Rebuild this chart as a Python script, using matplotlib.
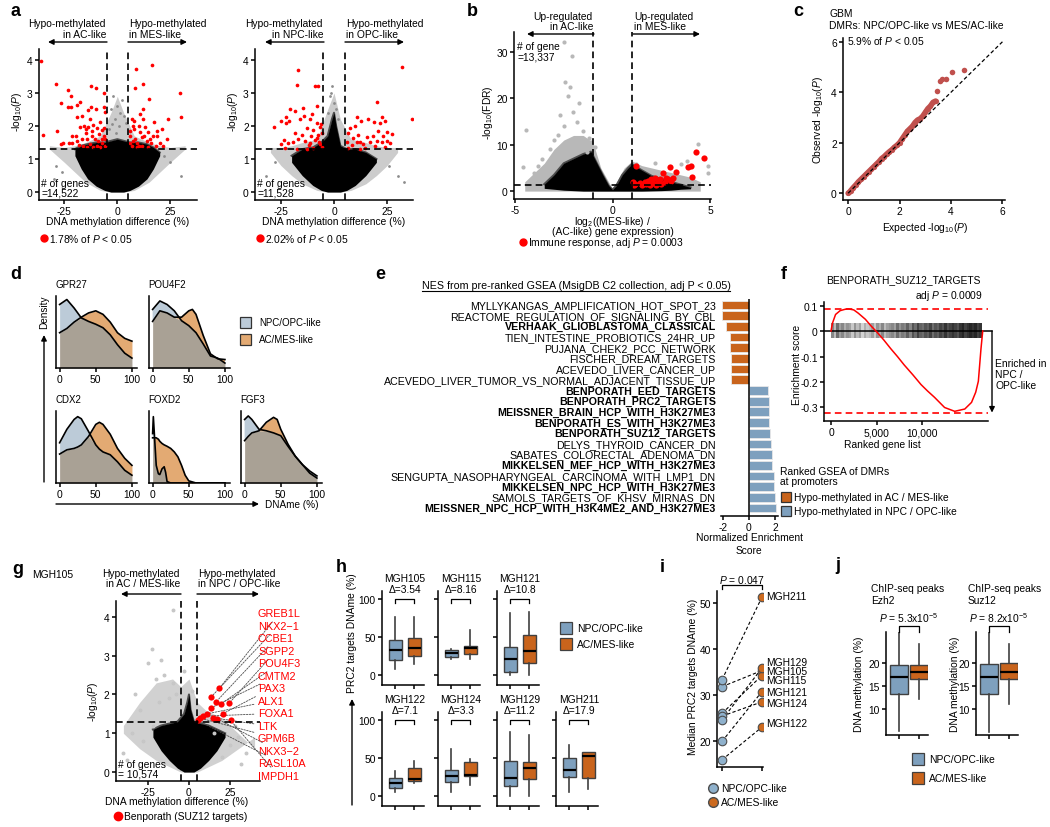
import numpy as np
import matplotlib
matplotlib.use('Agg')
import matplotlib.pyplot as plt
from matplotlib.patches import Rectangle, FancyArrowPatch
from matplotlib.lines import Line2D

plt.rcParams['font.family'] = ['Liberation Sans', 'DejaVu Sans']
plt.rcParams['mathtext.fontset'] = 'custom'
plt.rcParams['mathtext.rm'] = 'Liberation Sans'
plt.rcParams['mathtext.it'] = 'Liberation Sans:italic'
plt.rcParams['mathtext.bf'] = 'Liberation Sans:bold'
plt.rcParams['axes.unicode_minus'] = False

# ===================== DATA =====================
# panel a (left: AC vs MES)
a1_red_x = [-36, -35, -29, -28.3, -26.7, -25.7, -26.6, -23.3, -23.1, -21.8, -21.8, -18.9, -17.6, -19, -16.8,
            -12.4, -10.2, -13.6, -12.4, -13, -10.2, -6.3, -5.8, -6.1, -21.4, -19.3, -17.6, -15.7, -14.9, -13.6,
            -11.4, -9.8, -8.3, -7.1, -8.4, -11.9, -14.1, -16.8, -19.1, -21.4, -23, -16, -12.8, -10.5, -9.7, -7.4,
            -6.3, -8.3, -11.4, -5.6, -5.6, -14.5, -9.0, -7.0, -12.0, -15.0, -6.5, -18.0,
            9.0, 16.4, 29.6, 30.2, 8.4, 11.9, 14.9, 12.2, 24, 18.6, 20.9, 17.4, 10.7, 6.9, 7.6, 10, 13.1, 14.6,
            16.7, 18.9, 20.1, 23.3, 6, 8.4, 11.5, 13.8, 16.1, 18.2, 6.8, 9.1, 11.5, 14.6, 5.8, 6.2, 10.9, 7.9,
            12.2, 21.7, 7.2, 9.5, 12.8, 15.5, 8.0, 10.2]
a1_red_y = [3.96, 1.73, 3.27, 1.86, 1.45, 1.5, 2.7, 3.08, 2.58, 2.56, 2.92, 2.63, 2.74, 2.27, 2.3,
            3.2, 3.14, 2.49, 2.56, 2.21, 2.52, 2.56, 2.43, 3.0, 1.71, 1.71, 1.96, 2.01, 1.91, 1.96,
            2.03, 1.93, 2.11, 1.89, 1.76, 1.71, 1.61, 1.61, 1.56, 1.5, 1.5, 1.4, 1.45, 1.61, 1.4, 1.5,
            1.71, 1.35, 1.35, 1.4, 1.61, 1.37, 1.55, 1.62, 1.85, 1.8, 1.95, 1.42,
            3.73, 3.85, 3.0, 2.27, 3.16, 3.27, 2.82, 2.52, 2.2, 1.86, 1.91, 2.13, 2.36, 2.21, 2.01, 2.01, 1.96, 1.81,
            1.71, 1.71, 1.5, 1.61, 1.71, 1.61, 1.66, 1.56, 1.5, 1.4, 1.4, 1.35, 1.4, 1.35, 1.5, 1.86, 1.81, 2.16,
            2.2, 1.4, 1.55, 1.48, 1.7, 1.62, 1.92, 1.38]
a1_gray_x = [-2, 2, -3, 3, 0, -1, 1, -4, 4, -29, -26, 22, 25, -30, 30, -2.5, 1.5, -0.5]
a1_gray_y = [2.9, 2.8, 2.5, 2.3, 2.6, 2.2, 2.0, 1.9, 2.1, 0.8, 0.6, 1.1, 0.9, 0.4, 0.5, 2.05, 2.4, 1.8]
a1_core_x = [-20, -17, -14, -10, -6, -3, 0, 3, 6, 10, 14, 17, 20]
a1_core_lo = [1.1, 0.7, 0.4, 0.18, 0.05, 0, 0, 0, 0.05, 0.18, 0.4, 0.7, 1.1]
a1_core_hi = [1.3, 1.4, 1.45, 1.5, 1.5, 1.55, 1.6, 1.55, 1.5, 1.5, 1.45, 1.35, 1.2]
a1_halo_x = [-32, -25, -20, -15, -8, -3, 0, 3, 8, 15, 20, 25, 32]
a1_halo_lo = [1.3, 0.9, 0.6, 0.3, 0.05, 0, 0, 0, 0.05, 0.3, 0.6, 0.9, 1.3]
a1_halo_hi = [1.4, 1.35, 1.4, 1.5, 1.7, 2.4, 2.9, 2.4, 1.7, 1.5, 1.4, 1.35, 1.4]

# panel a (right: NPC vs OPC)
a2_red_x = [-16.8, -17.6, -9, -7.4, -28.3, -25.2, -22.6, -20.8, -22.6, -21, -18.4, -14.8, -14, -16, -10.5,
            -8.2, -11.3, -8.2, -6.6, -5.8, -9.8, -12.9, -15.2, -18.4, -23.6, -21.6, -19.2, -16.8, -13.7,
            -11.3, -9, -6.9, -5.8, -9.8, -12.9, -17.6, -23, -24.8, -7.4, -6.2, -7.8, -10.8, -12.0, -6.8,
            31.9, 20.1, 37.0, 12.6, 16.2, 18.9, 22.5, 24.1, 21.7, 20.9, 24.8, 27.2, 23.3, 18.5, 15.4, 17, 20.1,
            22.5, 24.8, 26.4, 13.8, 19.3, 24.1, 14.6, 12.3, 6.8, 7.5, 9.9, 10.7, 6, 8.3, 10.7, 12.3, 9.1, 6.8, 11.5]
a2_red_y = [3.68, 3.24, 3.21, 3.2, 1.98, 2.14, 2.28, 2.52, 2.09, 2.14, 2.45, 2.54, 2.3, 2.2, 2.35,
            2.6, 2.2, 2.09, 1.98, 1.79, 1.89, 1.94, 1.74, 1.79, 1.59, 1.49, 1.51, 1.61, 1.54,
            1.49, 1.59, 1.51, 1.36, 1.33, 1.31, 1.31, 1.33, 1.44, 1.74, 2.05, 1.65, 1.7, 1.42, 1.45,
            3.78, 2.72, 2.2, 2.16, 2.2, 2.12, 2.27, 2.16, 2.09, 1.86, 1.83, 1.76, 1.71, 1.7, 1.67, 1.52, 1.56,
            1.52, 1.56, 1.47, 1.44, 1.39, 1.36, 1.33, 1.52, 1.79, 1.94, 1.99, 2.28, 1.53, 1.43, 1.53, 1.31, 1.63, 1.33, 1.74]
a2_gray_x = [-1, -2, 0, 1, -3, 2, -1.5, -28, -32, 26, 30, 33]
a2_gray_y = [3.2, 2.9, 2.7, 2.5, 2.4, 2.2, 3.0, 0.9, 0.5, 0.8, 0.5, 0.3]
a2_core_x = [-20, -15, -10, -6, -3, -1, 0, 1, 3, 6, 10, 15, 20]
a2_core_lo = [0.9, 0.5, 0.2, 0.05, 0, 0, 0, 0, 0, 0.05, 0.2, 0.5, 0.9]
a2_core_hi = [1.1, 1.3, 1.35, 1.5, 1.7, 2.2, 2.4, 2.0, 1.4, 1.3, 1.3, 1.2, 1.0]
a2_halo_x = [-30, -25, -20, -15, -8, -3, 0, 3, 8, 15, 20, 25, 30]
a2_halo_lo = [1.2, 0.8, 0.5, 0.25, 0.05, 0, 0, 0, 0.05, 0.25, 0.5, 0.8, 1.2]
a2_halo_hi = [1.35, 1.35, 1.4, 1.5, 1.6, 2.5, 3.0, 2.2, 1.6, 1.5, 1.4, 1.35, 1.35]

# panel b
b_red_x = [1.23, 1.03, 1.17, 1.4, 1.66, 1.83, 1.99, 2.17, 2.42, 2.59, 2.76, 2.93, 3.01, 3.26, 1.49, 1.74, 1.91,
           2.34, 2.08, 2.25, 2.5, 2.67, 2.84, 3.1, 3.86, 4.03, 4.28, 4.67, 4.06, 1.1]
b_red_y = [5.47, 2.0, 1.5, 1.7, 2.0, 2.2, 2.6, 2.9, 2.6, 3.8, 2.9, 5.1, 2.2, 4.1, 1.4, 1.5, 1.35,
           2.0, 1.7, 1.4, 1.5, 2.0, 2.6, 2.9, 5.3, 5.47, 8.35, 7.05, 3.0, 1.3]
b_gray_x = [-2.49, -2.07, -2.44, -2.2, -4.43, -4.6, -3.6, -3.2, -2.8, -2.5, -2.0, -1.8, -1.5, -1.2, -1.1,
            -2.7, -3.0, -4.0, -3.8, 1.2, 2.2, 3.5, 4.4, 4.9, 4.9, 3.8, -1.7, -2.3, -1.3, -0.9]
b_gray_y = [32.1, 29.1, 23.5, 22.4, 13.1, 5.3, 7, 9, 12, 14, 17, 15, 13, 11.5, 10.5,
            16.5, 11, 4, 5.5, 5.8, 6.0, 5.9, 10.2, 5.5, 4.0, 6.5, 19, 20.4, 8.5, 9.5]
b_core_x = [-3.5, -3, -2.5, -2, -1.5, -1.1, -0.8, -0.5, -0.2, 0, 0.2, 0.5, 0.8, 1, 1.5, 2, 2.5, 3, 3.5, 4]
b_core_lo = [0.6, 0.4, 0.2, 0.1, 0, 0, 0, 0, 0, 0, 0, 0, 0, 0, 0, 0.05, 0.1, 0.2, 0.4, 0.5]
b_core_hi = [1.5, 3.5, 6, 7, 8, 8.5, 6, 3.5, 1.2, 0.3, 1.2, 3.5, 5, 5.8, 4.5, 3.3, 2.6, 2, 1.4, 0.8]
b_halo_x = [-4.5, -4, -3.5, -3, -2.5, -2, -1.5, -1, -0.6, 0, 0.6, 1, 1.5, 2, 2.5, 3, 3.5, 4, 4.5]
b_halo_hi = [2, 4, 6, 9, 11, 12, 12, 10.5, 5, 0.5, 5, 6.5, 5.5, 5, 4.5, 4, 3.5, 3, 2]

# panel c (QQ)
c_exp = [0, 0.05, 0.1, 0.2, 0.3, 0.4, 0.5, 0.6, 0.7, 0.8, 0.9, 1.0, 1.1, 1.2, 1.3, 1.4, 1.5, 1.6, 1.7, 1.8,
         1.9, 2.0, 2.1, 2.2, 2.3, 2.4, 2.5, 2.6, 2.7, 2.8, 2.9, 3.0, 3.1, 3.2, 3.3, 3.4]
c_obs = [0, 0.04, 0.1, 0.22, 0.33, 0.45, 0.55, 0.65, 0.75, 0.85, 0.95, 1.05, 1.15, 1.25, 1.37, 1.45, 1.55,
         1.64, 1.72, 1.82, 1.9, 2.0, 2.15, 2.3, 2.45, 2.55, 2.65, 2.8, 2.9, 2.95, 3.05, 3.2, 3.35, 3.45, 3.6, 3.65]
c_tail_exp = [3.46, 3.57, 3.66, 3.79, 4.05, 4.5]
c_tail_obs = [4.06, 4.46, 4.52, 4.52, 4.81, 4.9]

# panel d (densities, x = DNAme %)
d_genes = ['GPR27', 'POU4F2', 'CDX2', 'FOXD2', 'FGF3']
d_x = {
    'GPR27': [0, 10, 20, 30, 40, 50, 60, 70, 80, 90, 100],
    'POU4F2': [0, 10, 20, 30, 40, 50, 55, 60, 70, 80, 90, 100],
    'CDX2': [0, 10, 20, 25, 30, 40, 50, 55, 60, 70, 80, 90, 100],
    'FOXD2': [0, 1, 3, 5, 8, 10, 13, 16, 18, 20, 25, 30, 35, 40, 45, 50, 60, 80, 100],
    'FGF3': [0, 5, 10, 20, 30, 40, 45, 50, 60, 70, 80, 90, 100],
}
d_npc = {
    'GPR27': [0.9, 0.97, 0.85, 0.71, 0.66, 0.62, 0.57, 0.47, 0.33, 0.21, 0.14],
    'POU4F2': [0.83, 0.95, 0.9, 0.81, 0.67, 0.6, 0.55, 0.5, 0.34, 0.17, 0.14, 0.07],
    'CDX2': [0.57, 0.76, 0.9, 0.94, 0.91, 0.73, 0.54, 0.48, 0.44, 0.4, 0.3, 0.18, 0.11],
    'FOXD2': [0.7, 0.94, 0.59, 0.25, 0.13, 0.12, 0.2, 0.23, 0.15, 0.02, 0, 0, 0, 0, 0, 0, 0, 0, 0],
    'FGF3': [0.9, 0.95, 0.9, 0.76, 0.74, 0.71, 0.69, 0.67, 0.52, 0.38, 0.26, 0.17, 0.1],
}
d_ac = {
    'GPR27': [0.5, 0.56, 0.65, 0.72, 0.78, 0.81, 0.76, 0.65, 0.5, 0.42, 0.38],
    'POU4F2': [0.66, 0.81, 0.78, 0.72, 0.72, 0.81, 0.83, 0.76, 0.46, 0.2, 0.13, 0.12],
    'CDX2': [0.41, 0.47, 0.49, 0.51, 0.54, 0.66, 0.83, 0.86, 0.83, 0.69, 0.49, 0.35, 0.25],
    'FOXD2': [0.64, 0.64, 0.64, 0.64, 0.62, 0.59, 0.56, 0.54, 0.53, 0.52, 0.49, 0.44, 0.37, 0.25, 0.11, 0.03, 0.0, 0, 0],
    'FGF3': [0.6, 0.66, 0.71, 0.74, 0.86, 0.93, 0.9, 0.76, 0.55, 0.38, 0.26, 0.14, 0.07],
}

# panel e (GSEA NES)
e_terms = ['MYLLYKANGAS_AMPLIFICATION_HOT_SPOT_23', 'REACTOME_REGULATION_OF_SIGNALING_BY_CBL',
           'VERHAAK_GLIOBLASTOMA_CLASSICAL', 'TIEN_INTESTINE_PROBIOTICS_24HR_UP', 'PUJANA_CHEK2_PCC_NETWORK',
           'FISCHER_DREAM_TARGETS', 'ACEVEDO_LIVER_CANCER_UP', 'ACEVEDO_LIVER_TUMOR_VS_NORMAL_ADJACENT_TISSUE_UP',
           'BENPORATH_EED_TARGETS', 'BENPORATH_PRC2_TARGETS', 'MEISSNER_BRAIN_HCP_WITH_H3K27ME3',
           'BENPORATH_ES_WITH_H3K27ME3', 'BENPORATH_SUZ12_TARGETS', 'DELYS_THYROID_CANCER_DN',
           'SABATES_COLORECTAL_ADENOMA_DN', 'MIKKELSEN_MEF_HCP_WITH_H3K27ME3',
           'SENGUPTA_NASOPHARYNGEAL_CARCINOMA_WITH_LMP1_DN', 'MIKKELSEN_NPC_HCP_WITH_H3K27ME3',
           'SAMOLS_TARGETS_OF_KHSV_MIRNAS_DN', 'MEISSNER_NPC_HCP_WITH_H3K4ME2_AND_H3K27ME3']
e_nes = [-2.07, -2.05, -1.8, -1.46, -1.46, -1.4, -1.4, -1.36,
         1.49, 1.56, 1.56, 1.56, 1.6, 1.67, 1.74, 1.8, 1.92, 1.95, 2.03, 2.08]
e_bold = [False, False, True, False, False, False, False, False,
          True, True, True, True, True, False, False, True, False, True, False, True]

# panel f (running enrichment score)
f_rank = [0, 150, 500, 1000, 1500, 1900, 2500, 3000, 3780, 4400, 5070, 5800, 6560, 7300, 8040, 9000, 9890,
          10600, 11370, 12480, 13590, 14700, 15440, 15900, 16190, 16480, 16670]
f_es = [0, 0.03, 0.065, 0.08, 0.085, 0.087, 0.083, 0.07, 0.046, 0.02, -0.005, -0.035, -0.069, -0.1, -0.133,
        -0.172, -0.21, -0.235, -0.26, -0.30, -0.315, -0.306, -0.28, -0.24, -0.197, -0.069, 0]
f_hits = [0.6, 0.4, 0.7, 0.5, 0.6, 0.45, 0.55,
          0.5, 0.35, 0.55, 0.4, 0.5, 0.3, 0.45, 0.35,
          0.4, 0.5, 0.35, 0.55, 0.45, 0.6, 0.4, 0.5, 0.55,
          0.6, 0.5, 0.7, 0.55, 0.65, 0.6, 0.75, 0.6,
          0.8, 0.7, 0.85, 0.75, 0.7, 0.8, 0.75, 0.85, 0.7, 0.8,
          0.75, 0.85, 0.8, 0.9, 0.8, 0.85, 0.9, 0.85, 0.8, 0.9, 0.95, 0.85, 0.9, 0.95, 0.9, 0.95, 0.85, 0.9]
f_max_es, f_min_es = 0.086, -0.32

# panel g (MGH105 volcano)
g_red_x = [18.5, 13.6, 16.5, 24.6, 19.3, 13.2, 20.9, 10.8, 8.7, 14.8, 6.7, 16.9, 5.3, 25.4]
g_red_y = [2.16, 1.94, 1.81, 1.78, 1.75, 1.65, 1.51, 1.5, 1.44, 1.40, 1.39, 1.38, 1.33, 1.33]
g_labels = ['GREB1L', 'NKX2\u22121', 'CCBE1', 'SGPP2', 'POU4F3', 'CMTM2', 'PAX3', 'ALX1', 'FOXA1', 'LTK',
            'GPM6B', 'NKX3\u22122', 'RASL10A', 'IMPDH1']
g_gray_x = [-10, -22.8, -25, -35, -40, -30, -20, -15, -10, -8, -18, -12, -22, 30, 35, 28, 22, 25, 15, 10, -3,
            2, -28, -38, 32, 20, -33, -17]
g_gray_y = [4.19, 3.16, 2.8, 1.0, 0.5, 1.6, 2.4, 2.5, 2.3, 2.0, 1.8, 1.9, 1.2, 0.9, 0.5, 1.2, 1.3, 0.7, 1.0,
            1.5, 2.6, 2.1, 0.8, 0.3, 0.2, 0.4, 2.0, 2.9]
g_core_x = [-22, -17, -12, -7, -3, -1, 0, 1, 3, 7, 12, 17, 22]
g_core_lo = [0.9, 0.55, 0.3, 0.1, 0.0, 0, 0, 0, 0, 0.1, 0.3, 0.55, 0.9]
g_core_hi = [1.1, 1.2, 1.25, 1.3, 1.5, 1.8, 2.0, 1.6, 1.3, 1.25, 1.2, 1.1, 1.0]
g_halo_x = [-40, -30, -20, -10, -5, 0, 5, 10, 20, 30, 40]
g_halo_lo = [1.0, 0.6, 0.3, 0.1, 0, 0, 0, 0.1, 0.3, 0.6, 0.9]
g_halo_hi = [1.2, 1.8, 2.3, 2.4, 2.2, 2.4, 1.8, 1.6, 1.4, 1.0, 0.6]

# panel h (PRC2 targets DNAme boxplots): (whislo, q1, med, q3, whishi)
h_samples = ['MGH105', 'MGH115', 'MGH121', 'MGH122', 'MGH124', 'MGH129', 'MGH211']
h_delta = ['3.54', '8.16', '10.8', '7.1', '3.3', '11.2', '17.9']
h_npc = [(8, 19.9, 32.3, 45.6, 76.5), (21, 24.3, 28.3, 32.3, 34.5), (0, 4.4, 20.4, 36.7, 81),
         (5.8, 10.2, 16.8, 23.9, 32.3), (5.8, 18.6, 26.5, 33.6, 62), (0, 13.7, 24.3, 46.5, 84),
         (5.8, 24.8, 34, 49.6, 67)]
h_ac = [(14.6, 24.8, 35.4, 49, 76.5), (21.2, 27, 35.4, 38, 58.8), (0, 15.5, 31, 52.2, 83),
        (16.8, 19.9, 21.7, 36.7, 46), (15, 25.7, 27.4, 44.7, 48.7), (0, 22.1, 36.3, 44.3, 79.7),
        (9.7, 24.3, 52.2, 57.5, 58.4)]

# panel i (median PRC2 targets DNAme)
i_samples = ['MGH105', 'MGH115', 'MGH121', 'MGH122', 'MGH124', 'MGH129', 'MGH211']
i_npc = [31.8, 26.0, 19.9, 15.9, 25.4, 24.6, 33.3]
i_ac = [35.3, 34.2, 30.7, 23.0, 28.5, 35.8, 51.2]

# panel j (ChIP-seq peaks)
j_titles = ['ChIP-seq peaks\nEzh2', 'ChIP-seq peaks\nSuz12']
j_pvals = ['5.3', '8.2']
j_npc = [(5.2, 13.3, 17.0, 19.6, 26.9), (4.9, 13.2, 17.0, 19.8, 27.0)]
j_ac = [(12.2, 16.6, 18.0, 19.6, 24.0), (11.1, 16.4, 18.1, 20.0, 24.2)]

# ===================== STYLE / HELPERS =====================
W, H = 1050, 828
BLUE = '#7ea0be'
ORANGE = '#c9641c'
LBLUE = '#bccbd8'
LORANGE = '#e3aa73'
OVER = '#a9a195'
FS = 7.4

fig = plt.figure(figsize=(10.5, 8.28), dpi=100)


def axp(x0, y0, x1, y1):
    return fig.add_axes([x0 / W, 1 - y1 / H, (x1 - x0) / W, (y1 - y0) / H])


def ft(x, y, s, **kw):
    kw.setdefault('fontsize', FS)
    kw.setdefault('va', 'center')
    return fig.text(x / W, 1 - y / H, s, **kw)


def farrow(x0, y0, x1, y1, lw=1.0, ms=8):
    fig.add_artist(FancyArrowPatch((x0 / W, 1 - y0 / H), (x1 / W, 1 - y1 / H), transform=fig.transFigure,
                                   arrowstyle='-|>', mutation_scale=ms, lw=lw, color='k',
                                   shrinkA=0, shrinkB=0))


def fline(xs, ys, **kw):
    fig.add_artist(Line2D([x / W for x in xs], [1 - y / H for y in ys], transform=fig.transFigure, **kw))


def fsquare(x, y, s, color, ec='0.25'):
    fig.add_artist(Rectangle((x / W - s / 2 / W, 1 - y / H - s / 2 / H), s / W, s / H,
                             transform=fig.transFigure, fc=color, ec=ec, lw=0.9))


def fdot(x, y, color, ms=5, mec=None):
    fig.add_artist(Line2D([x / W], [1 - y / H], transform=fig.transFigure, marker='o', ms=ms, color=color,
                          mec=mec if mec else color, lw=0))


def style(ax, lw=1.1):
    for s in ['top', 'right']:
        ax.spines[s].set_visible(False)
    for s in ['left', 'bottom']:
        ax.spines[s].set_linewidth(lw)
    ax.tick_params(length=3, width=lw, labelsize=FS, pad=1.5)


def letter(x, y, s):
    ft(x, y, s, fontsize=13, fontweight='bold')


DASH = (0, (4, 2.5))


def volcano(ax, hx, hlo, hh, cx, clo, chi, gx, gy, rx, ry, rs, vx=5, hy=1.3, halo_c='0.8'):
    ax.fill_between(hx, hlo, hh, color=halo_c, lw=0, zorder=1)
    ax.fill_between(cx, clo, chi, color='k', lw=0, zorder=2)
    ax.plot(cx, chi, color='0.3', lw=1.5, zorder=1.5)
    ax.scatter(gx, gy, s=4, color='0.55', lw=0, zorder=2)
    if len(rx):
        ax.scatter(rx, ry, s=rs, color='red', lw=0, zorder=4)
    ax.axvline(-vx, color='k', ls=DASH, lw=1.2, zorder=5)
    ax.axvline(vx, color='k', ls=DASH, lw=1.2, zorder=5)
    ax.axhline(hy, color='k', ls=DASH, lw=1.2, zorder=5)


# ===================== PANEL a =====================
letter(10, 12, 'a')
for (x0, x1, zero, rx, ry, gx, gy, cx, clo, chi, hx, hlo, hh, ltxt, rtxt, vl, vr, ylx, ngenes, pct) in [
    (39, 197, 117.3, a1_red_x, a1_red_y, a1_gray_x, a1_gray_y, a1_core_x, a1_core_lo, a1_core_hi,
     a1_halo_x, a1_halo_lo, a1_halo_hi, 'Hypo-methylated\nin AC-like', 'Hypo-methylated\nin MES-like',
     107, 128, 17, '# of genes\n=14,522', '1.78%'),
    (255, 413, 334, a2_red_x, a2_red_y, a2_gray_x, a2_gray_y, a2_core_x, a2_core_lo, a2_core_hi,
     a2_halo_x, a2_halo_lo, a2_halo_hi, 'Hypo-methylated\nin NPC-like', 'Hypo-methylated\nin OPC-like',
     324, 345, 233, '# of genes\n=11,528', '2.02%')]:
    ax = axp(x0, 50, x1, 201)
    style(ax)
    volcano(ax, hx, hlo, hh, cx, clo, chi, gx, gy, rx, ry, 7)
    ax.set_xlim((x0 - zero) / 2.12, (x1 - zero) / 2.12)
    ax.set_ylim(-0.24, 4.33)
    ax.set_xticks([-25, 0, 25])
    ax.set_yticks([0, 1, 2, 3, 4])
    ft(vl - 1, 29.5, ltxt, ha='right', multialignment='right', linespacing=1.05)
    ft(vr + 1, 29.5, rtxt, ha='left', linespacing=1.05)
    farrow(vl, 43, vl - 59, 43)
    farrow(vr, 43, vr + 59, 43)
    ft(x0 + 2, 189, ngenes, ha='left', linespacing=1.0)
    ft(zero, 222, 'DNA methylation difference (%)', ha='center')
    ft(ylx, 112, r'-log$_{10}$($\it{P}$)', ha='center', rotation=90)
    fdot(x0 + 5, 239, 'red', ms=5)
    ft(x0 + 10, 239, pct + r' of $\it{P}$ < 0.05', ha='left')

# ===================== PANEL b =====================
letter(467, 12, 'b')
ax = axp(514, 33, 711, 200)
style(ax)
volcano(ax, b_halo_x, [0] * len(b_halo_x), b_halo_hi, b_core_x, b_core_lo, b_core_hi, [], [], [], [], 0,
        vx=1.0, halo_c='0.72')
ax.scatter(b_gray_x, b_gray_y, s=9, color='0.72', lw=0, zorder=2)
ax.scatter(b_red_x, b_red_y, s=20, color='red', lw=0, zorder=4)
ax.set_xlim(-5.05, 5.05)
ax.set_ylim(-1.7, 34.3)
ax.set_xticks([-5, 0, 5])
ax.set_yticks([0, 10, 20, 30])
ft(593, 22, 'Up-regulated\nin AC-like', ha='right', multialignment='right', linespacing=1.05)
ft(634, 22, 'Up-regulated\nin MES-like', ha='left', linespacing=1.05)
farrow(594, 35, 527, 35)
farrow(633, 35, 700, 35)
ft(517, 52, '# of gene\n=13,337', ha='left', linespacing=1.0)
ft(613, 222, 'log$_{2}$((MES-like) /', ha='center')
ft(613, 232, '(AC-like) gene expression)', ha='center')
ft(488, 113, r'-log$_{10}$(FDR)', ha='center', rotation=90)
fdot(523, 243, 'red', ms=5)
ft(528, 243, r'Immune response, adj $\it{P}$ = 0.0003', ha='left')

# ===================== PANEL c =====================
letter(793, 12, 'c')
ax = axp(843, 39, 1005, 201)
style(ax)
ax.plot([0, 6], [0, 6], color='k', ls=(0, (3, 2)), lw=0.9, zorder=3)
ax.plot(c_exp, c_obs, color='#c0504d', lw=4, solid_capstyle='round', zorder=2)
ax.scatter(c_exp, c_obs, s=14, color='#c0504d', lw=0, zorder=2)
ax.scatter(c_tail_exp, c_tail_obs, s=16, color='#c0504d', lw=0, zorder=2)
ax.set_xlim(-0.2, 6.1)
ax.set_ylim(-0.27, 6.15)
ax.set_xticks([0, 2, 4, 6])
ax.set_yticks([0, 2, 4, 6])
ft(829, 14, 'GBM', ha='left')
ft(829, 26, 'DMRs: NPC/OPC-like vs MES/AC-like', ha='left')
ft(847, 41, r'5.9% of $\it{P}$ < 0.05', ha='left')
ft(925, 228, r'Expected -log$_{10}$($\it{P}$)', ha='center')
ft(818, 120, r'Observed -log$_{10}$($\it{P}$)', ha='center', rotation=90)

# ===================== PANEL d =====================
letter(10, 275, 'd')
d_boxes = {'GPR27': (56, 297, 137, 369), 'POU4F2': (149, 297, 230, 369),
           'CDX2': (56, 412, 137, 484), 'FOXD2': (149, 412, 230, 484), 'FGF3': (241, 412, 322, 484)}
for g in d_genes:
    x0, y0, x1, y1 = d_boxes[g]
    ax = axp(x0, y0, x1, y1)
    style(ax)
    xs = np.array(d_x[g], float)
    bl = np.array(d_npc[g], float)
    og = np.array(d_ac[g], float)
    lo = np.minimum(bl, og)
    ax.fill_between(xs, 0, lo, color=OVER, lw=0)
    ax.fill_between(xs, lo, bl, where=bl >= og, interpolate=True, color=LBLUE, lw=0)
    ax.fill_between(xs, lo, og, where=og >= bl, interpolate=True, color=LORANGE, lw=0)
    ax.plot(xs, bl, color='k', lw=1.2)
    ax.plot(xs, og, color='k', lw=1.2)
    ax.set_xlim(-5, 107)
    ax.set_ylim(0, 1.02)
    ax.set_yticks([])
    ax.set_xticks([0, 50, 100])
    ft(x0 - 1, y0 - 12, g, ha='left', fontsize=7)
farrow(44, 483, 44, 336)
ft(44, 312, 'Density', ha='center', rotation=90, fontsize=7.2)
farrow(56, 505, 259, 505)
ft(265, 505, 'DNAme (%)', ha='left', fontsize=7.2)
fsquare(245, 323, 11, LBLUE, ec='0.2')
fsquare(245, 340, 11, LORANGE, ec='0.2')
ft(259, 323, 'NPC/OPC-like', ha='left', fontsize=7)
ft(259, 340, 'AC/MES-like', ha='left', fontsize=7)

# ===================== PANEL e =====================
letter(375, 275, 'e')
n = len(e_terms)
ax = axp(721, 300, 778, 517)
for s in ['top', 'right', 'left']:
    ax.spines[s].set_visible(False)
ax.spines['bottom'].set_linewidth(1.1)
ax.tick_params(axis='x', length=3, width=1.1, labelsize=FS, pad=1.5)
ax.set_yticks([])
cols = [ORANGE if v < 0 else BLUE for v in e_nes]
ax.barh(range(n), e_nes, height=0.82, color=cols, edgecolor='#e8e8e8', lw=0.6)
ax.axvline(0, color='k', lw=1.1)
ax.set_xlim(-2.15, 2.23)
ax.set_ylim(n - 1 + 8 / 10.68, -0.56)
ax.set_xticks([-2, 0, 2])
for i, (t, b) in enumerate(zip(e_terms, e_bold)):
    ax.text(-2.55, i, t, ha='right', va='center', fontsize=7.7, fontweight='bold' if b else 'normal',
            clip_on=False)
ttl = ft(576, 286, 'NES from pre-ranked GSEA (MsigDB C2 collection, adj P < 0.05)', ha='center', fontsize=7.7)
ft(749, 538, 'Normalized Enrichment', ha='center')
ft(749, 551, 'Score', ha='center')
ft(780, 477, 'Ranked GSEA of DMRs\nat promoters', ha='left', linespacing=1.0)
fsquare(786, 498, 10, ORANGE, ec='0.2')
fsquare(786, 512, 10, BLUE, ec='0.2')
ft(794, 498, 'Hypo-methylated in AC / MES-like', ha='left')
ft(794, 512, 'Hypo-methylated in NPC / OPC-like', ha='left')

# ===================== PANEL f =====================
letter(781, 275, 'f')
ax = axp(824, 303, 988, 422)
style(ax)
ax.imshow(np.array(f_hits)[None, :], cmap='Greys', vmin=0, vmax=1, aspect='auto',
          extent=(0, 16550, -0.028, 0.028), interpolation='nearest', zorder=2, alpha=0.9)
ax.plot([-770, 17690], [0, 0], color='k', lw=1.1, clip_on=False, zorder=3)
ax.plot(f_rank, f_es, color='red', lw=1.1, zorder=4)
ax.axhline(f_max_es, color='red', ls=DASH, lw=1.2)
ax.axhline(f_min_es, color='red', ls=DASH, lw=1.2)
ax.annotate('', xy=(17690, f_min_es), xytext=(17690, 0),
            arrowprops=dict(arrowstyle='-|>', lw=1.0, color='k', mutation_scale=8, shrinkA=0, shrinkB=0),
            annotation_clip=False)
ax.set_xlim(-770, 17250)
ax.set_ylim(-0.353, 0.114)
ax.set_xticks([0, 5000, 10000])
ax.set_xticklabels(['0', '5,000', '10,000'])
ax.set_yticks([0.1, 0, -0.1, -0.2, -0.3])
ax.set_yticklabels(['0.1', '0', '-0.1', '-0.2', '-0.3'])
ft(903, 280, 'BENPORATH_SUZ12_TARGETS', ha='center')
ft(983, 296, r'adj $\it{P}$ = 0.0009', ha='right')
ft(797, 365, 'Enrichment score', ha='center', rotation=90)
ft(882, 445, 'Ranked gene list', ha='center')
ft(995, 375, 'Enriched in\nNPC /\nOPC-like', ha='left', linespacing=1.1)

# ===================== PANEL g =====================
letter(12, 570, 'g')
ax = axp(116, 602, 260, 782)
style(ax)
volcano(ax, g_halo_x, g_halo_lo, g_halo_hi, g_core_x, g_core_lo, g_core_hi, g_gray_x, g_gray_y,
        g_red_x, g_red_y, 20, halo_c='0.82')
ax.scatter(g_gray_x, g_gray_y, s=8, color='0.78', lw=0, zorder=2)
ax.set_xlim(-44.5, 43.3)
ax.set_ylim(-0.23, 4.41)
ax.set_xticks([-25, 0, 25])
ax.set_yticks([0, 1, 2, 3, 4])
for k, lab in enumerate(g_labels):
    ly = 614 + 12.54 * k
    ax.annotate(lab, xy=(g_red_x[k], g_red_y[k]), xytext=(258 / W, 1 - ly / H), textcoords='figure fraction',
                color='red', fontsize=FS + 0.4, ha='left', va='center', annotation_clip=False,
                arrowprops=dict(arrowstyle='-', ls=(0, (2, 1.5)), lw=0.6, color='0.3', shrinkA=1, shrinkB=2))
ft(32, 575, 'MGH105', ha='left')
ft(180, 579, 'Hypo-methylated\nin AC / MES-like', ha='right', multialignment='right', linespacing=1.05)
ft(198, 579, 'Hypo-methylated\nin NPC / OPC-like', ha='left', linespacing=1.05)
farrow(181, 595, 121, 595)
farrow(197, 595, 259, 595)
ft(118, 770, '# of genes\n= 10,574', ha='left', linespacing=1.0)
ft(177, 802, 'DNA methylation difference (%)', ha='center')
ft(93, 702, r'-log$_{10}$($\it{P}$)', ha='center', rotation=90)
fdot(118, 817, 'red', ms=6)
ft(124, 817, 'Benporath (SUZ12 targets)', ha='left')


def bstats(t):
    return dict(whislo=t[0], q1=t[1], med=t[2], q3=t[3], whishi=t[4])


def draw_boxes(ax, npc, ac, width):
    st = [bstats(npc), bstats(ac)]
    bp = ax.bxp(st, positions=[1, 2], widths=width, patch_artist=True, showfliers=False, showcaps=False,
                boxprops=dict(lw=1.0, edgecolor='0.25'),
                medianprops=dict(color='k', lw=1.6),
                whiskerprops=dict(color='0.25', lw=1.2))
    bp['boxes'][0].set_facecolor(BLUE)
    bp['boxes'][1].set_facecolor(ORANGE)


# ===================== PANEL h =====================
letter(336, 567, 'h')
h_pos = [(382, 592), (438, 592), (497, 592), (382, 713), (438, 713), (497, 713), (556, 713)]
for k, s in enumerate(h_samples):
    x0, y0 = h_pos[k]
    ax = axp(x0, y0, x0 + 42, y0 + 94)
    style(ax)
    draw_boxes(ax, h_npc[k], h_ac[k], 0.65)
    ax.set_xlim(0.3, 2.5)
    ax.set_ylim(-13.2, 110.5)
    ax.set_xticks([1, 2])
    ax.set_xticklabels([])
    ax.set_yticks([0, 50, 100])
    if x0 != 382:
        ax.set_yticklabels([])
    ax.plot([1, 1, 2, 2], [95, 100, 100, 95], color='k', lw=0.9, clip_on=False)
    ax.text(1.5, 106, '\u0394=' + h_delta[k], ha='center', va='bottom', fontsize=FS, clip_on=False)
    ax.text(1.5, 121, s, ha='center', va='bottom', fontsize=FS, clip_on=False)
ft(352, 633, 'PRC2 targets DNAme (%)', ha='center', rotation=90)
farrow(352, 806, 352, 700)
fsquare(566, 629, 12, BLUE)
fsquare(566, 645, 12, ORANGE)
ft(577, 629, 'NPC/OPC-like', ha='left')
ft(577, 645, 'AC/MES-like', ha='left')

# ===================== PANEL i =====================
letter(660, 567, 'i')
ax = axp(717, 592, 763, 768)
style(ax)
for a, b in zip(i_npc, i_ac):
    ax.plot([1, 2], [a, b], color='k', ls=(0, (3, 2)), lw=0.8, zorder=1)
ax.scatter([1] * len(i_npc), i_npc, s=38, color='#8fb1cc', edgecolor='0.3', lw=0.8, zorder=3)
ax.scatter([2] * len(i_ac), i_ac, s=38, color='#cc6a1f', edgecolor='0.3', lw=0.8, zorder=3)
i_label_y = [35.2, 33.3, 30.7, 23.9, 28.3, 37.2, 51.5]
for s, ly in zip(i_samples, i_label_y):
    ax.text(2.12, ly, s, ha='left', va='center', fontsize=FS, clip_on=False)
ax.set_xlim(0.875, 2.03)
ax.set_ylim(14.35, 52.6)
ax.set_xticks([1, 2])
ax.set_xticklabels([])
ax.set_yticks([20, 30, 40, 50])
ax.plot([1, 1, 2, 2], [53.1, 54.0, 54.0, 53.1], color='k', lw=0.9, clip_on=False)
ft(742, 580, r'$\it{P}$ = 0.047', ha='center')
ft(693, 677, 'Median PRC2 targets DNAme (%)', ha='center', rotation=90)
fdot(713, 789, '#8fb1cc', ms=7, mec='0.3')
fdot(713, 803, '#cc6a1f', ms=7, mec='0.3')
ft(721, 789, 'NPC/OPC-like', ha='left')
ft(721, 803, 'AC/MES-like', ha='left')

# ===================== PANEL j =====================
letter(835, 566, 'j')
for k, (x0, x1, tx, ylx) in enumerate([(886, 928, 871, 859), (976, 1018, 968, 955)]):
    ax = axp(x0, 633, x1, 736)
    style(ax)
    draw_boxes(ax, j_npc[k], j_ac[k], 0.9)
    ax.set_xlim(0.35, 2.45)
    ax.set_ylim(4.35, 26.7)
    ax.set_xticks([1, 2])
    ax.set_xticklabels([])
    ax.set_yticks([10, 15, 20])
    ax.plot([1, 1, 2, 2], [26.8, 27.9, 27.9, 26.8], color='k', lw=0.9, clip_on=False)
    ax.text(1.5, 28.4, r'$\it{P}$ = ' + j_pvals[k] + r'x10$^{-5}$', ha='center', va='bottom',
            fontsize=FS, clip_on=False)
    ft(tx, 595, j_titles[k], ha='left', linespacing=1.15)
    ft(ylx, 684, 'DNA methylation (%)', ha='center', rotation=90)
fsquare(918, 760, 12, BLUE)
fsquare(918, 779, 12, ORANGE)
ft(929, 760, 'NPC/OPC-like', ha='left')
ft(929, 779, 'AC/MES-like', ha='left')

# underline of panel e title
fig.canvas.draw()
bb = ttl.get_window_extent()
fline([bb.x0, bb.x1], [H - bb.y0 + 1, H - bb.y0 + 1], color='k', lw=0.8)

fig.savefig('out.png', dpi=100)
